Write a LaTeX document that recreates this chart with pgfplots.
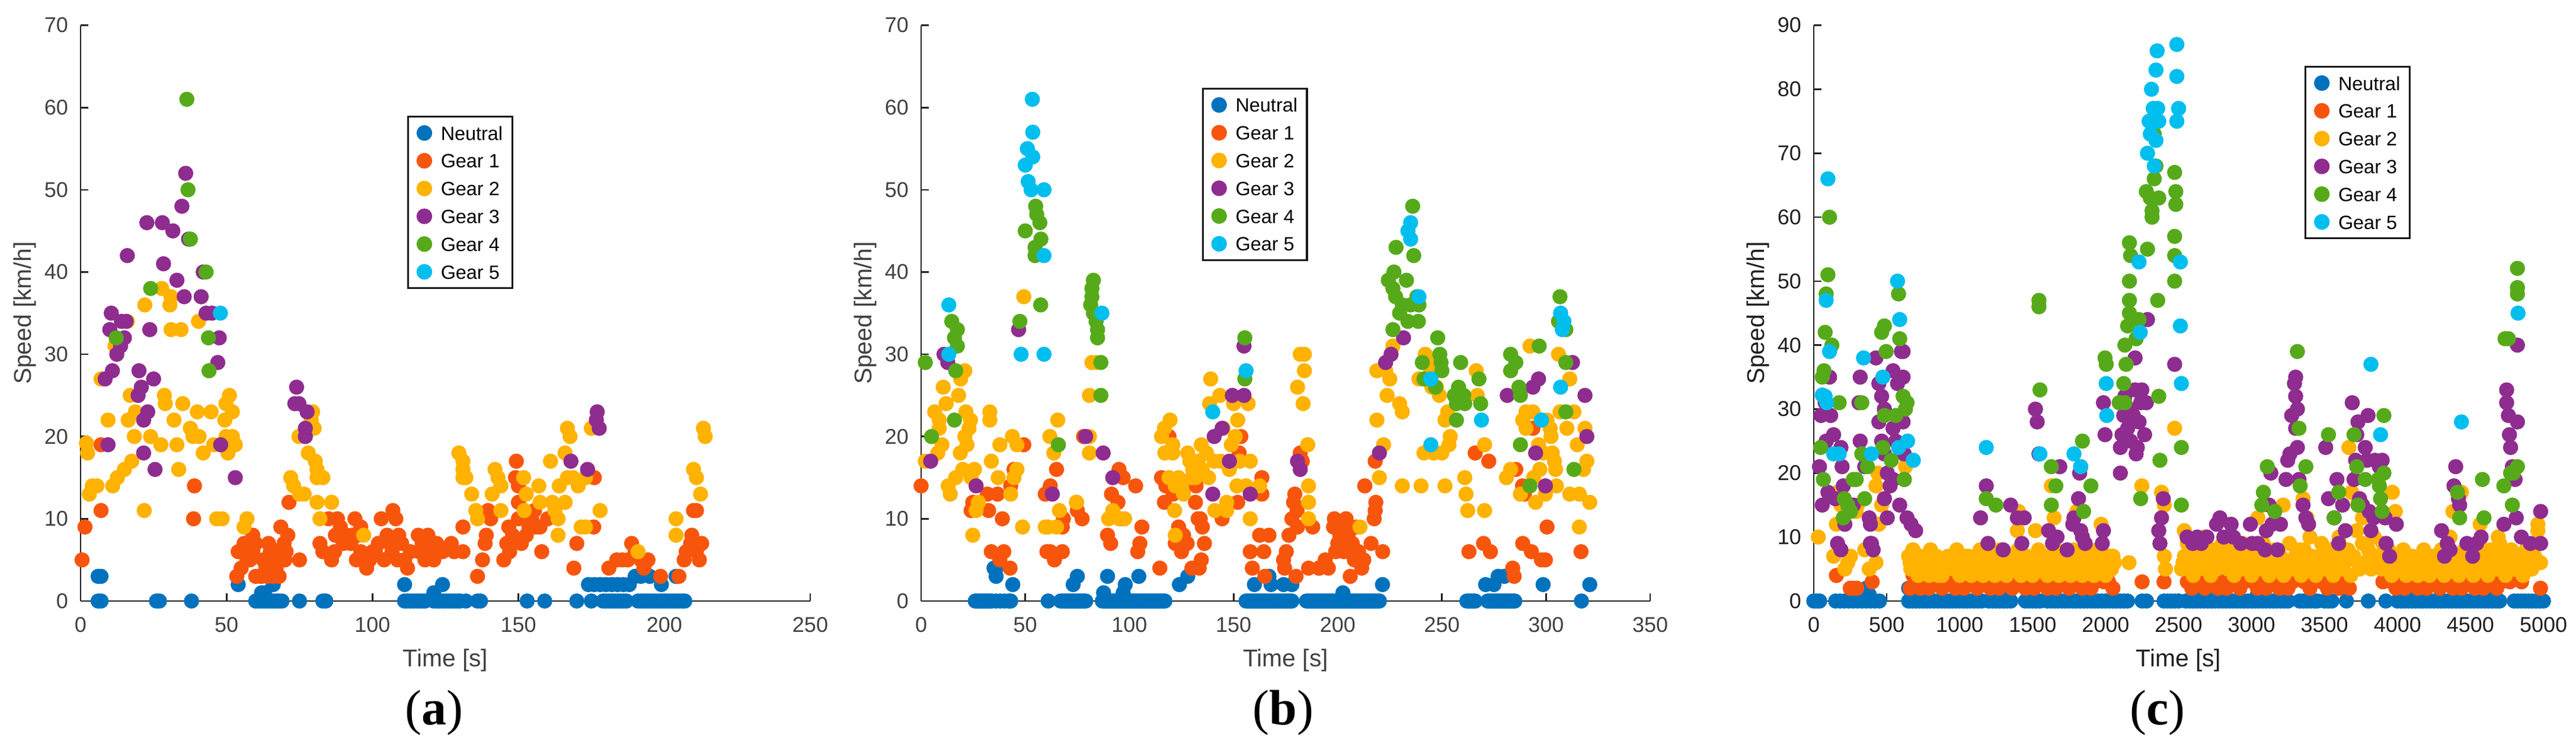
\documentclass[border=0pt]{standalone}
\usepackage{fontspec}
\setmainfont{Liberation Sans}
\newfontfamily\capserif{Liberation Serif}
\usepackage{pgfplots}
\pgfplotsset{compat=1.18}
\definecolor{cN}{RGB}{0,114,189}
\definecolor{cA}{RGB}{248,85,12}
\definecolor{cB}{RGB}{255,178,0}
\definecolor{cC}{RGB}{143,44,143}
\definecolor{cD}{RGB}{86,170,26}
\definecolor{cE}{RGB}{0,190,238}
\pgfplotsset{
  g/.style={only marks, mark=*, mark size=3pt, color=#1, mark options={draw=none, fill=#1}},
  panel/.style={
    scale only axis, height=242.6pt, clip=false,
    axis x line*=bottom, axis y line*=left,
    axis line style={-, line width=0.67pt, draw=black!87},
    tick align=inside, major tick length=3.2pt,
    tick style={line width=0.67pt, draw=black!87},
    xmin=0, ymin=0,
    ticklabel style={font=\fontsize{9}{10}\selectfont, text=#1},
    /pgf/number format/assume math mode=true,
    /pgf/number format/1000 sep={},
    xticklabel style={anchor=center, yshift=-10pt},
    yticklabel style={anchor=east, xshift=-1.75pt},
    every axis x label/.style={at={(axis description cs:0.5,-0.1138)}, anchor=base, font=\fontsize{10.2}{12}\selectfont, text=#1},
    every axis y label/.style={at={(axis description cs:-0.0767,0.5)}, rotate=90, anchor=center, font=\fontsize{10.2}{12}\selectfont, text=#1},
    xlabel={Time [s]}, ylabel={Speed [km/h]},
    legend cell align=left,
    legend image code/.code={\draw[##1, mark size=2.9pt] plot coordinates {(2.9pt,0pt)};},
    legend style={anchor=north west, draw=black!90, line width=0.8pt, fill=white,
      font=\fontsize{8.1}{9}\selectfont, inner xsep=4pt, inner ysep=1.05pt,
      column sep=4.05pt, row sep=0pt,
      nodes={inner xsep=0pt, inner ysep=2.85pt, text height=6pt, text depth=0pt}},
  },
}
\begin{document}
\begin{tikzpicture}
\path[use as bounding box] (0,0) rectangle (1086.5pt,314.75pt);
% ---------------- (a) ----------------
\begin{axis}[panel=black!75, at={(34pt,61.5pt)}, anchor=south west, width=307.75pt,
  xmax=250, ymax=70, xtick={0,50,...,250}, ytick={0,10,...,70},
  legend style={at={(0.4474,0.843)}}]
\addplot[g=cN] coordinates {(6,0)(7,0)(26,0)(27,0)(38,0)(60,0)(61,0)(62,0)(63,0)(64,0)(65,0)(66,0)(67,0)(68,0)(69,0)(75,0)(83,0)(84,0)(111,0)(112,0)(113,0)(114,0)(115,0)(116,0)(117,0)(118,0)(121,0)(122,0)(123,0)(124,0)(125,0)(126,0)(127,0)(128,0)(129,0)(130,0)(132,0)(136,0)(137,0)(153,0)(159,0)(170,0)(175,0)(179,0)(180,0)(181,0)(182,0)(183,0)(184,0)(185,0)(186,0)(187,0)(191,0)(192,0)(193,0)(194,0)(195,0)(196,0)(197,0)(198,0)(199,0)(200,0)(201,0)(202,0)(203,0)(204,0)(205,0)(206,0)(207,0)
(6,3)(7,3)(54,2)(62,1)(63,1)(66,2)(111,2)(121,1)(124,2)(174,2)(176,2)(178,2)(180,2)(182,2)(184,2)(186,2)(188,2)(190,3)(192,3)(193,4)(195,3)(199,2)(204,3)};
\addlegendentry{Neutral}
\addplot[g=cA] coordinates {(0.5,5)(1.5,9)(7,19)(7,11)(39,14)(38.7,10)(71.4,12)(75,5)
(53.5,3)(54,6)(55,4)(56,7)(59,8)(60,7)(58,5)(59,6)(60,3)(61.6,3)(64.4,7)(65,6)(63.5,4)(67,4)(68,3)(68.6,9)(70,5)(69.7,7)(70.4,6)(71,8)(62.5,5)(66,3)(57,5)(62,3)(64,3)(66,5)(67,6)
(82,7)(83,6)(85,10)(86,5)(87,6)(87.3,8)(88,10)(89,9)(90,7)(91,8)(92.6,7)(94,10)(94.5,5)(95,8)(96,6)(97,5)(98,4)(100,6)(102,7)(103,10)(104,5)(105,8)(106,7)(107,11)(106.7,6)(108.6,5)(109,8)(110,7)(111,5)(112,4)(115.7,8)(117,7)(118,5)(119,8)(120,6)(121,5)(122,7)(122.7,6)(124,6)(127,7)(128,6)(131,6)(131,9)(99,5)(101,6)(93,8)(96,9)(108,10)(113,6)(116,6)(119,7)
(136,3)(137.7,5)(138.6,7)(139,8)(139.6,11)(140.5,10)(145,5)(146,7)(146.7,9)(148,8)(149,15)(149.3,17)(150,14)(150,10)(151,7)(152.7,8)(153.6,9)(154.6,10)(155.5,11)(157.4,9)(158,6)(160,10)(147,6)(150,12)(152,11)(156,9)(170,7)(169,4)(176,15)(175.8,9)(181,4)(183.7,5)(185.6,5)(187.5,5)(188.8,7)(190,6)(192,5)(193,4)(194.4,5)(198.7,3)(205,3)(206.8,5)(207.5,6)(209,7)(210,11)(209.4,8)(211,6)(212.8,7)(212,5)(211,11)};
\addlegendentry{Gear 1}
\addplot[g=cB] coordinates {(2,19.2)(2.4,18)(3,13)(4,14)(5.6,14)(7,27)(9.4,22)(11,14)(12.6,15)(11.8,31)(15,16)(16,34)(17,25)(17.5,17)(18.4,20)(18.8,23)(16.3,22)(21.8,11)(22,36)(24,20)(27.5,19)(27.8,38)(28.7,25)(29,24)(30.6,36)(31,37)(31,33)(32,22)(33,19)(33.6,16)(34.4,33)(35,24)(37.6,21)(38.5,20)(40,23)(40.4,34)(42,18)(40.6,20)(44.7,23)(45.6,19)(46.6,10)(48.5,10)(49.4,22)(49.8,24)(51,25)(49.8,20)(50.5,18)(52,20)(52,23)(53,19)(57,10)(56,9)(74.8,20)(72,15)(73,14)(75,13)(76.6,13)(79.5,23)(79,22)(80,21)(78,18)(80.4,17)(81,16)(81,15)(83,15)(81,12)(82,10)(86,12)(97,8)(129.6,18)(131,17)(131,16)(131,15)(132,15)(134,13)(135.4,11)(136,10)(142,16)(143,15)(144,14)(141,13)(144,11)(151.8,15)(152.7,13)(152,11)(157,14)(157.4,12)(161,17)(161.6,12)(162.5,11)(163.6,10)(163.6,8)(164,14)(166,18)(166.8,21)(167.7,20)(166.8,15)(166,12)(168.7,15)(170.5,14)(171.5,9)(173,9)(175,21)(178,11)(173,15)(191,6)(204,10)(204,8)(210,16)(211,15)(212.4,13)(213.4,21)(214,20)};
\addlegendentry{Gear 2}
\addplot[g=cC] coordinates {(8.4,27)(9.4,19)(10,33)(10.5,35)(10.9,28)(12.4,30)(13.7,31)(15,32)(14,34)(15.6,34)(16,42)(20,28)(19.7,25)(20.8,26)(21.6,22)(21.6,18)(23,23)(22.7,46)(23.7,33)(25,27)(25.5,16)(28,46)(28.4,41)(31.6,45)(33,39)(34.7,48)(35.5,37)(36,52)(37,44)(41.3,37)(42,40)(43,35)(45,35)(47.5,32)(47,29)(48,19)(53,15)(74,26)(73.4,24)(74.8,24)(77.6,23)(77,21)(77,20)(168,17)(173.7,16)(177,23)(176.7,22)(177.7,21)};
\addlegendentry{Gear 3}
\addplot[g=cD] coordinates {(12.2,32)(24,38)(36.4,61)(36.8,50)(37.6,44)(43,40)(43.8,32)(44,28)};
\addlegendentry{Gear 4}
\addplot[g=cE] coordinates {(47.9,35)};
\addlegendentry{Gear 5}
\end{axis}
% ---------------- (b) ----------------
\begin{axis}[panel=black!75, at={(388.5pt,61.5pt)}, anchor=south west, width=307.5pt,
  xmax=350, ymax=70, xtick={0,50,...,350}, ytick={0,10,...,70},
  legend style={at={(0.385,0.8917)}}]
\addplot[g=cN] coordinates {(26,0)(27,0)(28,0)(29,0)(30,0)(31,0)(32,0)(33,0)(34,0)(36,0)(38,0)(40,0)(42,0)(43,0)(61,0)(67,0)(68,0)(69,0)(70,0)(71,0)(72,0)(73,0)(74,0)(75,0)(76,0)(77,0)(78,0)(79,0)(87,0)(88,0)(89,0)(90,0)(91,0)(92,0)(93,0)(94,0)(95,0)(96,0)(97,0)(98,0)(99,0)(100,0)(101,0)(102,0)(103,0)(104,0)(105,0)(106,0)(107,0)(108,0)(109,0)(110,0)(111,0)(112,0)(113,0)(114,0)(115,0)(116,0)(117,0)(156,0)(157,0)(158,0)(159,0)(160,0)(161,0)(162,0)(163,0)(164,0)(165,0)(166,0)(167,0)(168,0)(169,0)(170,0)(171,0)(172,0)(173,0)(174,0)(175,0)(176,0)(177,0)(178,0)(185,0)(186,0)(187,0)(188,0)(189,0)(190,0)(191,0)(192,0)(193,0)(194,0)(195,0)(196,0)(197,0)(198,0)(199,0)(200,0)(201,0)(202,0)(203,0)(204,0)(205,0)(206,0)(207,0)(208,0)(209,0)(210,0)(211,0)(212,0)(213,0)(214,0)(215,0)(216,0)(217,0)(218,0)(219,0)(220,0)(262,0)(263,0)(264,0)(265,0)(266,0)(272,0)(273,0)(274,0)(275,0)(276,0)(277,0)(278,0)(279,0)(280,0)(281,0)(282,0)(283,0)(284,0)(285,0)(317,0)
(35,4)(36,3)(36,4)(44,2)(73,2)(75,3)(87.6,1)(89.5,3)(97,1)(98,2)(104.5,3)(124,2)(128,3)(160,2)(167,3)(168,2)(174,2)(178,2)(191,4)(202.5,1)(221.5,2)(271,2)(275,2)(277,3)(280,3)(298.6,2)(321,2)};
\addlegendentry{Neutral}
\addplot[g=cA] coordinates {(0,14)(24.8,12)(24,11)(31.8,13)(32.4,11)(33.7,6)(36.7,13)(37.8,5)(39,10)(39.7,6)(42.7,4)(43,14)(44.6,16)(49.3,19)(59.6,13)(62,14)(60.4,6)(62,6)(64,5)(65,16)(67.8,9)(68.3,10)(67.8,6)(74.6,12)(75,11)(77.3,10)(78,20)(89.5,8)(91,7)(91.4,13)(94.5,12)(95,16)(95.8,10)(97,15)(103,14)(104,6)(105,7)(106,9)(114.6,4)(115.4,15)(116.8,12)(117.5,14)(119,20)(121,13)(122,7)(123.6,9)(125,6)(126,8)(127.7,7)(130,4)(131.7,12)(132,14)(133,10)(133.5,4)(134.5,5)(135,9)(136,7)(134,10)(144.5,10)(152,12)(152.7,18)(153.5,20)(159,4)(158,6)(162.5,8)(163.6,13)(163.6,15)(164.5,6)(165,3)(167,8)(174,5)(174.5,4)(175.3,6)(176.6,8)(178,10)(178.8,12)(179.4,13)(180,3)(180.5,11)(180.7,9)(182,18)(183,17)(186,4)(188,9)(191,4)(194,5)(195.5,4)(198,9)(199,6)(198.4,10)(200,7)(201,8)(202,9)(203,6)(204,10)(205,8)(206,3)(207,7)(208,5)(209,9)(210,6)(211.5,4)(212.5,5)(216,7)(213,14)(217.5,10)(218,11)(218.3,12)(218,17)(221.6,6)
(263,6)(266,18)(270,7)(272.5,17)(273.3,6)(284,4)(284.7,3)(285.5,16)(288.7,14)(288.8,7)(289.6,13)(293,6)(293.7,21)(297.8,5)(300.5,9)(299.7,5)(316.8,6)};
\addlegendentry{Gear 1}
\addplot[g=cB] coordinates {(2,17)(8,18)(6.5,23)(8.7,22)(8.7,21)(10,19)(10.6,26)(12,24)(13,14)(14,13)(16.6,15)(18,25)(19,27)(21,28)(18.8,18)(20,16)(21.5,23)(23,21)(21,20)(22,19)(23.7,22)(24.8,8)(25.6,16)(26.4,11)(24,15)(27.5,12)(33,23)(33,22)(33.7,17)(37,15)(37.8,19)(43.8,20)(44.6,15)(43,13)(46,19)(46,16)(48.7,9)(49.3,37)(59.6,9)(61,9)(61.8,20)(63.7,18)(65,9)(65.6,22)(66.4,11)(74.6,12)(80.8,20)(80.8,18)(80.8,25)(82,29)(84,29)(90,10)(92,11)(95,10)(97.7,10)
(116.8,21)(115.4,20)(117,18)(119.5,22)(120.8,19)(120.8,18)(121.7,11)(122,8)(119,15)(122,14)(123.6,15)(125,14)(126,13)(128,18)(129,17)(130,15)(130.4,16)(131.7,15)(133,17)(134.5,19)(135,16)(137,18)(138,15)(139,27)(138.5,24)(140.7,17)(141,11)(143.4,25)(144,17)(145,21)(146.7,12)(146.7,11)(148,16)(148.9,19)(150,24)(150.8,20)(151.6,14)(152,22)(153,17)(156,14)(157,24)(158,17)(158,10)(162.5,14)
(180.7,26)(182,30)(184,30)(184,28)(183.4,24)(185.6,19)(186,14)(186,12)(186,10)(210.7,9)(218.8,28)(218.8,22)(220,15)(222,19)(223,28)(223.7,25)(225,27)(226.5,31)(229.7,24)(231,23)(231,14)(239,27)(240,14)(241.4,18)(242,30)(243.3,29)(244.7,28)(245.2,26)(246,18)(247.4,26)(248.8,25)(250,18)(251.5,14)(251.5,22)(252.8,23)(253.4,19)(254,20)(261,15)(261.6,13)(262.4,11)(266.5,28)(267,25)(270.5,19)(270.5,11)(281,15)(283,16)(287.7,13)(288.8,22)(290.4,21)(290.4,23)(292.3,31)(293.7,23)(294,15)(295,12)(296.4,19)(297,16)(298.6,18)(299.7,13)(300.5,22)(302,21)(302.4,20)(303,18)(304,17)(304.6,16)(305,14)(306,30)(306.7,23)(310,21)(311.4,27)(311.4,13)(313.4,23)(315,19)(316,13)(316,9)(318,16)(318.7,21)(319.6,17)(321,12)};
\addlegendentry{Gear 2}
\addplot[g=cC] coordinates {(4.6,17)(11,30)(12.8,29)(26.4,14)(46.8,33)(63,13)(79,20)(87.4,18)(92,15)(140,13)(140.7,20)(144.5,21)(148,17)(149.4,25)(155,25)(155,31)(158,13)(180.7,17)(182,16)(220,18)(223,29)(225.6,30)(231.6,32)(281.4,25)(293.7,26)(295,18)(296.4,27)(299.7,14)(312.7,29)(318.7,25)(319.6,20)};
\addlegendentry{Gear 3}
\addplot[g=cD] coordinates {(2,29)(5,20)(14.7,34)(16,32)(17.4,33)(17.4,31)(16.6,28)(16,22)(50,45)(47.4,34)(55,48)(55.5,47)(57,46)(57.5,44)(54.7,43)(54.7,42)(57.4,36)(65.9,19)(82.7,39)(82,38)(82,37)(81.4,36)(82.7,35)(84,34)(84.7,33)(84.7,32)(86.3,29)(86.3,25)(155.4,32)(155.4,27)(224.3,39)(227,40)(226.5,38)(227.8,37)(228,43)(226.5,33)(229.7,35)(231,36)(233,39)(233.7,34)(235,36)(236,48)(236.5,42)(238,37)(238.7,34)(239,36)(240.6,29)(241.4,27)(247,26)(248,32)(249,30)(249.6,29)(250,28)(259,29)(256,25)(257,24)(257,22)(258,26)(260.5,25)(261,24)(267.8,27)(268.6,24)(283,30)(283,28)(285.5,29)(287,26)(287.7,25)(287.7,19)(292.3,14)(296.7,31)(306.7,37)(306,34)(309.5,33)(309.5,29)(309.5,23)(313.4,16)};
\addlegendentry{Gear 4}
\addplot[g=cE] coordinates {(13.3,36)(13.3,30)(48,30)(53.4,61)(53.6,57)(51,55)(50,53)(53.6,54)(51.4,51)(52.8,50)(59,50)(59,42)(59,30)(86.8,35)(140,23)(156,28)(233.7,45)(235,46)(235,44)(239,37)(244.7,27)(244.7,19)(269,22)(297.8,22)(307,35)(308.6,34)(307.8,33)(307,26)};
\addlegendentry{Gear 5}
\end{axis}
% ---------------- (c) ----------------
\begin{axis}[panel=black!88, at={(765pt,61.5pt)}, anchor=south west, width=307.75pt,
  xmax=5000, ymax=90, xtick={0,500,...,5000}, ytick={0,10,...,90},
  legend style={at={(0.6726,0.9297)}}]
\addplot[g=cN] coordinates {(0,0)(20,0)(40,0)(150,0)(180,0)(210,0)(240,0)(270,0)(300,0)(330,0)(360,0)(390,0)(420,0)(450,0)
(650,0)(675,0)(700,0)(725,0)(750,0)(775,0)(800,0)(825,0)(850,0)(875,0)(900,0)(925,0)(950,0)(975,0)(1000,0)(1025,0)(1050,0)(1075,0)(1100,0)(1125,0)(1150,0)
(1200,0)(1225,0)(1250,0)(1275,0)(1300,0)(1325,0)(1350,0)(1450,0)(1475,0)(1500,0)(1525,0)(1550,0)
(1600,0)(1625,0)(1650,0)(1675,0)(1700,0)(1725,0)(1750,0)(1775,0)(1800,0)(1825,0)(1850,0)(1875,0)(1900,0)(1925,0)(1950,0)(1975,0)(2000,0)(2025,0)(2050,0)(2075,0)(2100,0)(2125,0)(2150,0)
(2250,0)(2280,0)(2400,0)(2425,0)(2450,0)(2475,0)(2500,0)
(2550,0)(2575,0)(2600,0)(2625,0)(2650,0)(2675,0)(2700,0)(2725,0)(2750,0)(2775,0)(2800,0)(2825,0)(2850,0)(2875,0)(2900,0)(2925,0)(2950,0)(2975,0)(3000,0)(3025,0)(3050,0)(3075,0)(3100,0)(3125,0)(3150,0)(3175,0)(3200,0)(3225,0)(3250,0)
(3330,0)(3355,0)(3380,0)(3405,0)(3430,0)(3450,0)(3500,0)(3525,0)(3550,0)(3650,0)(3800,0)(3920,0)
(4000,0)(4025,0)(4050,0)(4075,0)(4100,0)(4125,0)(4150,0)(4175,0)(4200,0)(4225,0)(4250,0)(4275,0)(4300,0)(4325,0)(4350,0)(4375,0)(4400,0)(4425,0)(4450,0)(4475,0)(4500,0)(4525,0)(4550,0)(4575,0)(4600,0)(4625,0)(4650,0)(4675,0)(4700,0)
(4800,0)(4825,0)(4850,0)(4875,0)(4900,0)(4925,0)(4950,0)(4975,0)(5000,0)
(380,1)(360,2)(650,2)(700,1)(3040,1)(4080,1)(4620,1)(4660,2)(2680,1)(1300,1)};
\addlegendentry{Neutral}
\addplot[g=cA] coordinates {(660,2)(680,4)(700,3)(710,5)(730,2)(760,3)(790,2)(820,4)(850,3)(880,2)(910,3)(940,4)(970,2)(1000,3)(1030,2)(1060,4)(1090,3)(1120,2)(1150,3)(1180,4)(1210,2)(1240,3)(1270,2)(1300,4)(1330,3)(1360,2)(1390,3)(1420,4)(1450,2)(1480,3)(1510,2)(1540,3)(1570,4)(1600,2)(1630,3)(1660,2)(1690,4)(1720,3)(1750,2)(1780,3)(1810,4)(1840,2)(1870,3)(1900,2)(1930,3)(1960,4)(1990,3)(2010,7)(2020,3)(2050,2)
(2560,3)(2590,2)(2620,4)(2650,3)(2680,2)(2710,3)(2740,4)(2770,2)(2800,3)(2830,2)(2860,4)(2890,3)(2920,2)(2950,3)(2980,5)(3010,3)(3040,2)(3070,3)(3100,2)(3130,4)(3160,3)(3190,2)(3220,3)(3250,2)(3280,3)
(3360,3)(3400,2)(3440,4)(3480,3)(3520,2)(3560,3)(3600,2)(3640,3)(3670,2)
(3900,3)(3930,4)(3960,3)(3990,2)(4020,3)(4050,2)(4080,4)(4110,3)(4140,2)(4170,3)(4200,2)(4230,4)(4260,3)(4290,2)(4320,3)(4350,4)(4380,2)(4410,3)(4440,2)(4470,4)(4500,3)(4530,2)(4560,3)(4590,2)(4620,4)(4650,3)(4680,2)(4710,3)(4740,5)(4770,3)
(155,4)(250,2)(270,2)(295,2)(400,3)(2250,3)(2400,3)(4850,3)(4980,2)};
\addlegendentry{Gear 1}
\addplot[g=cB] coordinates {(650,7)(665,5)(680,8)(700,6)(715,4)(730,7)(750,5)(770,6)(790,4)(800,8)(820,5)(840,7)(860,6)(880,4)(900,5)(920,7)(940,6)(960,5)(980,8)(1000,4)(1020,6)(1040,5)(1060,7)(1080,4)(1100,6)(1120,5)(1140,8)(1160,4)(1180,6)(1200,7)(1220,5)(1240,4)(1260,6)(1280,8)(1300,5)(1320,4)(1340,7)(1360,6)(1380,5)(1400,8)(1420,4)(1440,6)(1460,7)(1480,5)(1500,4)(1520,6)(1540,8)(1560,5)(1580,7)(1600,4)(1620,6)(1640,5)(1660,8)(1680,4)(1700,7)(1720,5)(1740,6)(1760,4)(1780,8)(1800,5)(1820,6)(1840,4)(1860,7)(1880,5)(1900,6)(1920,4)(1940,8)(1960,5)(1980,6)(2000,4)(2020,7)(2040,5)(2060,6)
(660,6)(725,5)(790,7)(855,4)(915,6)(975,5)(1035,7)(1095,5)(1150,6)(1215,5)(1270,7)(1335,5)(1395,6)(1450,5)(1515,7)(1575,5)(1635,7)(1690,6)(1750,5)(1815,7)(1870,5)(1935,6)(1995,5)(2050,7)
(2520,5)(2540,7)(2560,9)(2580,6)(2600,4)(2620,8)(2640,5)(2660,7)(2680,10)(2700,6)(2720,4)(2740,8)(2760,5)(2780,7)(2800,9)(2820,6)(2840,5)(2860,8)(2880,4)(2900,7)(2920,6)(2940,9)(2960,5)(2980,7)(3000,4)(3020,8)(3040,6)(3060,5)(3080,9)(3100,7)(3120,4)(3140,6)(3160,8)(3180,5)(3200,7)(3220,4)(3240,6)(3260,9)(3280,5)(3300,7)(3320,6)(3340,4)(3360,8)(3380,5)(3400,10)(3420,6)(3440,4)(3460,7)(3480,9)(3500,5)(3520,6)(3540,8)(3560,4)(3580,7)(3600,10)(3620,5)(3640,6)(3660,8)(3680,4)(3700,7)(3720,11)(3740,5)(3760,9)(3780,6)(3800,8)(3820,5)(3840,10)(3860,7)(3880,6)(3900,9)(3920,5)(3940,8)(3960,4)(3980,7)(4000,6)(4020,5)(4040,8)(4060,4)(4080,6)(4100,7)(4120,5)(4140,4)(4160,6)(4180,8)(4200,5)(4220,4)(4240,7)(4260,6)(4280,5)(4300,8)(4320,4)(4340,6)(4360,10)(4380,5)(4400,7)(4420,4)(4440,6)(4460,8)(4480,5)(4500,7)(4520,4)(4540,6)(4560,9)(4580,5)(4600,7)(4620,4)(4640,8)(4660,6)(4680,5)(4700,9)(4720,7)(4740,4)(4760,6)(4780,8)(4800,5)(4820,7)(4840,6)(4860,4)(4880,8)(4900,6)(4920,5)(4940,7)(4960,6)(4980,6)
(2530,6)(2610,5)(2690,7)(2770,6)(2850,7)(2930,5)(3010,6)(3090,5)(3170,7)(3250,5)(3330,8)(3410,7)(3490,6)(3570,5)(3650,7)(3730,6)(3810,7)(3890,5)(3970,6)(4050,7)(4130,6)(4210,7)(4290,6)(4370,7)(4450,5)(4530,8)(4610,6)(4690,7)(4770,5)(4850,6)(4930,8)
(31,10)(136,7)(155,12)(163,17)(186,15)(213,5)(233,6)(252,7)(349,8)(380,5)(426,18)(438,20)(446,12)(426,6)(465,15)(639,22)(628,21)(659,7)(678,8)(290,14)(300,15)(2160,6)(2248,18)(2402,7)(2410,5)
(1403,14)(1395,11)(1519,11)(1628,18)(1647,13)(1783,13)(1802,14)(1969,12)(1996,6)(2016,6)(2383,17)(2402,15)(2473,27)(2539,11)(3043,13)(3217,15)(3353,16)(3380,13)(3667,24)(3686,17)(3729,16)(3760,13)(3965,17)(3985,14)(4380,14)(4438,17)(4566,12)(4690,10)(4962,12)(4962,11)};
\addlegendentry{Gear 2}
\addplot[g=cC] coordinates {(39,21)(50,29)(58,15)(78,31)(85,25)(97,17)(108,35)(116,29)(136,26)(147,16)(163,9)(186,8)(186,24)(194,21)(202,18)(213,12)(233,15)(271,15)(310,31)(318,35)(318,25)(349,21)(380,13)(388,12)(395,9)(407,8)(388,9)(426,38)(446,34)(465,32)(484,30)(446,28)(465,25)(484,23)(504,20)(523,18)(484,16)(504,13)(543,36)(543,27)(543,19)(562,25)(574,34)(589,15)(601,39)(612,35)(612,28)(620,23)(620,19)(639,13)(667,12)(698,11)(612,39)
(1143,13)(1182,18)(1194,9)(1298,8)(1349,15)(1395,13)(1426,9)(1442,13)(1519,30)(1531,28)(1543,23)(1609,11)(1636,9)(1667,10)(1686,21)(1736,8)(1775,12)(1783,13)(1814,16)(1829,11)(1841,10)(1860,9)(1822,20)(1829,21)
(1977,9)(1985,11)(1996,26)(1985,31)(2101,20)(2101,24)(2112,26)(2124,29)(2132,32)(2151,27)(2163,30)(2171,25)(2190,29)(2202,33)(2209,23)(2217,24)(2229,28)(2240,31)(2248,33)(2267,26)(2279,31)(2287,44)(2202,38)(2364,11)(2383,13)(2395,16)(2372,9)(2473,37)
(2558,10)(2597,9)(2628,10)(2655,9)(2694,10)(2760,12)(2783,13)(2810,10)(2860,12)(2876,10)(2926,9)(2992,12)(3004,9)(3043,9)(3093,8)(3101,11)(3120,15)(3132,20)(3140,12)(3178,8)(3198,12)(3236,19)(3248,22)(3263,23)(3275,29)(3294,34)(3302,35)(3302,32)(3314,30)(3302,27)(3314,24)(3325,19)(3353,15)(3372,13)(3391,12)
(3508,24)(3527,16)(3566,13)(3585,19)(3597,9)(3624,15)(3643,11)(3690,31)(3702,19)(3713,22)(3721,26)(3729,28)(3740,16)(3760,15)(3779,24)(3791,22)(3798,29)(3806,14)(3818,11)(3837,13)(3845,22)(3876,21)(3895,22)(3915,13)(3922,9)(3946,7)(3992,12)
(4302,11)(4322,7)(4341,9)(4360,8)(4399,21)(4387,18)(4418,16)(4426,15)(4476,9)(4515,7)(4542,9)(4573,10)
(4729,12)(4748,33)(4748,31)(4760,29)(4767,26)(4775,24)(4787,21)(4806,19)(4814,13)(4822,40)(4822,28)(4849,10)(4911,9)(4981,14)(4981,9)};
\addlegendentry{Gear 3}
\addplot[g=cD] coordinates {(47,24)(66,19)(58,35)(70,36)(78,42)(85,48)(97,51)(108,60)(124,40)(174,31)(202,13)(209,16)(233,15)(252,14)(271,19)(291,19)(329,31)(349,16)(368,21)(329,23)(473,24)(484,29)(465,42)(484,43)(496,39)(531,22)(562,29)(581,48)(589,41)(612,32)(628,30)(620,19)(639,31)
(1182,16)(1248,15)(1543,47)(1543,46)(1550,33)(1628,21)(1659,18)(1628,15)(1841,25)(1899,18)(1849,14)
(1996,38)(2004,37)(2093,31)(2124,34)(2132,40)(2140,37)(2163,50)(2163,47)(2163,45)(2151,43)(2171,54)(2163,56)(2132,31)(2209,41)(2229,44)(2240,16)(2287,55)(2279,64)(2306,63)(2318,61)(2318,60)(2333,66)(2345,68)(2333,73)(2364,63)(2357,47)(2364,32)(2372,22)(2473,67)(2481,64)(2481,62)(2473,57)(2473,54)(2473,50)(2519,24)(2519,15)
(3070,15)(3081,17)(3108,21)(3159,14)(3314,39)(3325,27)(3333,18)(3372,21)(3527,26)(3566,13)(3597,17)(3702,26)(3721,21)(3729,15)(3779,19)(3868,19)(3876,18)(3884,16)(3907,29)(3907,20)(3895,14)
(4426,13)(4411,17)(4582,19)(4593,13)(4737,41)(4760,41)(4729,18)(4775,20)(4787,15)(4795,20)(4822,21)(4822,48)(4822,49)(4822,52)};
\addlegendentry{Gear 4}
\addplot[g=cE] coordinates {(58,32.2)(78,32)(85,47)(97,66)(108,39)(89,31)(136,23)(174,23)(341,38)(395,23)(473,35)(574,50)(589,44)(581,24)(643,25)(682,22)(1182,24)(1550,23)(1783,23)(1829,21)(2004,34)(2008,29)(2229,53)(2237,42)(2287,70)(2298,75)(2306,73)(2314,80)(2326,77)(2345,75)(2353,86)(2345,83)(2333,68)(2357,77)(2364,75)(2345,72)(2488,87)(2488,82)(2500,77)(2488,75)(2512,53)(2512,43)(2519,34)(3818,37)(3884,26)(4438,28)(4826,45)};
\addlegendentry{Gear 5}
\end{axis}
\node[font=\capserif\fontsize{21}{24}\selectfont, anchor=base] at (183pt,9.3pt) {(\textbf{a})};
\node[font=\capserif\fontsize{21}{24}\selectfont, anchor=base] at (541.25pt,9.3pt) {(\textbf{b})};
\node[font=\capserif\fontsize{21}{24}\selectfont, anchor=base] at (910pt,9.3pt) {(\textbf{c})};
\end{tikzpicture}
\end{document}
